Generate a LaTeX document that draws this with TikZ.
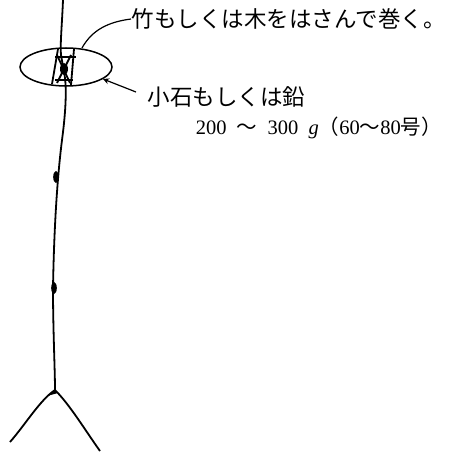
\documentclass[tikz,border=0pt]{standalone}
\usepackage{fontspec}
\newfontfamily\jp{Noto Sans CJK JP}
\newfontfamily\num{Liberation Serif}
\usepackage{tikz}
\usetikzlibrary{arrows.meta,shapes.geometric}

\begin{document}
\begin{tikzpicture}[x=1pt,y=-1pt,line width=1.8pt,font=\jp\fontsize{22.5}{30}\selectfont]
\useasboundingbox (0,0) rectangle (456,452);

% the line, knot and weight
\node[ellipse,draw,line width=1.5pt,minimum width=92pt,minimum height=38pt,inner sep=0pt] (O) at (66,67) {};
\draw (63,0) .. controls (62,25) and (60,45) .. (61,55) -- (64,72)
  .. controls (67,86) and (66,110) .. (62,140)
  .. controls (57,180) and (54,230) .. (53,288)
  .. controls (53,330) and (55,370) .. (55,390) coordinate (F);
\fill (56,177) ellipse (2.8pt and 6pt);
\fill (54,288) ellipse (2.8pt and 6pt);
\draw (F) .. controls (40,400) and (25,425) .. (10,442);
\draw (F) .. controls (70,405) and (85,430) .. (100,451);
\fill (55,390) -- (47,396) -- (58,393) -- cycle;
% the little sticks in the knot
\begin{scope}[line width=1.8pt]
\draw (58,49) -- (52,84);
\draw (74,49) -- (71,85);
\draw (55,57) -- (76,57);
\draw (55,80) -- (73,80);
\draw (57,55) -- (70,83);
\draw (71,55) -- (57,83);
\fill (64,69) ellipse (4pt and 6pt);
\end{scope}

% labels
\node[anchor=west,inner sep=0pt] (T1) at (131,19) {竹もしくは木をはさんで巻く。};
\node[anchor=west,inner sep=0pt] (T2) at (147,97) {小石もしくは鉛};
\node[anchor=west,inner sep=0pt,font=\num\fontsize{20.5}{26}\selectfont] (T3) at (195,128)
  {200\ \ {\jp～}\ \ 300\enspace\textit{g}{\jp（}60{\jp～}80{\jp 号）}};

\draw[line width=1.2pt] (T1.west) .. controls (108,22) and (92,30) .. (82,48);
\draw[line width=1.2pt,-{Stealth[length=6pt,width=6pt]}] (136,92) -- (O.-18);
\end{tikzpicture}
\end{document}
